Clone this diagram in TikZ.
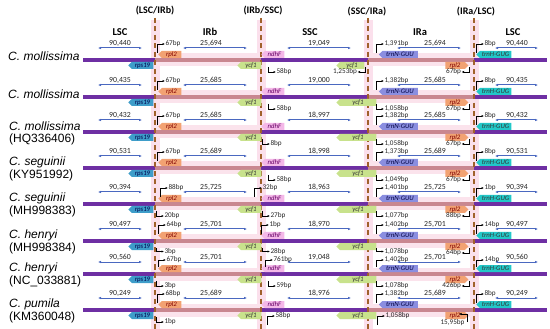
\documentclass[tikz,border=0pt]{standalone}
\usepackage{fontspec}
\setmainfont{Carlito}
\newfontfamily\arialfont{Liberation Sans}
\usepackage{tikz}
\usetikzlibrary{arrows.meta, positioning, shapes.symbols}

\definecolor{scpurple}{HTML}{6E2FA3}
\definecolor{irrose}{HTML}{C98790}
\definecolor{irband}{HTML}{FBE3EC}
\definecolor{bandpink}{HTML}{FBE0EC}
\definecolor{boundbrown}{HTML}{A0612B}
\definecolor{lenblue}{HTML}{4A68C0}
\definecolor{rpscol}{HTML}{3E9DC9}
\definecolor{rplcol}{HTML}{F2A272}
\definecolor{ycfcol}{HTML}{C8E28C}
\definecolor{ndhcol}{HTML}{F4B8E8}
\definecolor{trnncol}{HTML}{8A8EE0}
\definecolor{trnhcol}{HTML}{22C8C8}

\tikzset{
  bound/.style={draw=boundbrown, line width=1.6pt, dash pattern=on 5pt off 3.5pt},
  band/.style={fill=bandpink},
  scline/.style={draw=scpurple, line width=4pt},
  irline/.style={draw=irrose, line width=4pt},
  lenarrow/.style={{Latex[length=3pt,width=2.6pt]}-{Latex[length=3pt,width=2.6pt]}, draw=lenblue, line width=1pt},
  lenlabel/.style={inner sep=0pt, text=black!85, font=\fontsize{7.8}{8}\selectfont},
  boundlabel/.style={inner sep=0pt, font=\fontsize{10}{11}\selectfont\bfseries},
  regionlabel/.style={inner sep=0pt, font=\fontsize{10.5}{11}\selectfont\bfseries},
  splabel/.style={anchor=west, inner sep=0pt, font=\arialfont\fontsize{12}{13}\selectfont\itshape},
  acclabel/.style={anchor=west, inner sep=0pt, font=\arialfont\fontsize{12}{13}\selectfont},
  gene/.style={shape=signal, signal to=west, inner sep=0pt, minimum height=7pt,
    font=\fontsize{6.8}{7}\selectfont\itshape},
  rpsgene/.style={fill=rpscol, text=blue!30!black, minimum width=25pt},
  rplgene/.style={fill=rplcol, text=red!50!black, minimum width=23pt},
  ycfgene/.style={fill=ycfcol, text=black!80},
  ndhgene/.style={fill=ndhcol, text=violet!80!black, minimum width=23pt},
  trnngene/.style={fill=trnncol, text=blue!25!black, minimum width=39pt},
  trnhgene/.style={fill=trnhcol, text=black!80, minimum width=35pt},
  bp/.style={inner sep=0.3pt, text=black!85, font=\fontsize{7.2}{8}\selectfont},
  bparrow/.style={-{Latex[length=2.5pt,width=2.2pt]}, line width=0.6pt}
}

% bent arrows with distances to the junctions
\newcommand{\bpup}[5][16]{%
  \coordinate (#2s) at (#3,#4-7);
  \node[bp, anchor=west] (#2) at (#3+8,#4-#1) {#5};
  \draw[bparrow] (#2s) |- (#2.west);}
\newcommand{\bpdown}[5][12]{%
  \coordinate (#2s) at (#3,#4+7);
  \node[bp, anchor=west] (#2) at (#3+8,#4+#1) {#5};
  \draw[bparrow] (#2s) |- (#2.west);}
\newcommand{\bpback}[5][12]{%
  \coordinate (#2s) at (#3,#4+7);
  \node[bp, anchor=east] (#2) at (#3-7.5,#4+#1) {#5};
  \draw[bparrow] (#2s) |- (#2.east);}
\newcommand{\bprise}[4]{%
  \coordinate (#1s) at (#2,#3+15);
  \node[bp, anchor=west] (#1) at (#2+8,#3+6) {#4};
  \draw[bparrow] (#1s) |- (#1.west);}

\begin{document}
\begin{tikzpicture}[x=1pt, y=-1pt, >=Latex]
  \useasboundingbox (0,0) rectangle (550,329);
  % pink bands behind the junctions
  \foreach \bx in {155,261,368,474}
    \fill[band] (\bx-4.5,20) rectangle (\bx+4.5,329);
  % headings
  \node[boundlabel] (lscirb) at (155,11) {(LSC/IRb)};
  \node[boundlabel] (irbssc) at (263,11) {(IRb/SSC)};
  \node[boundlabel] (sscira) at (367,12) {(SSC/IRa)};
  \node[boundlabel] (iralsc) at (476,12) {(IRa/LSC)};
  \node[regionlabel] (lscleft) at (120,32) {LSC};
  \node[regionlabel] (irbhead) at (210,32) {IRb};
  \node[regionlabel] (sschead) at (310,32) {SSC};
  \node[regionlabel] (irahead) at (420,32) {IRa};
  \node[regionlabel] (lscright) at (513,32) {LSC};
  % species
  \node[splabel] (sp1) at (8,56) {C. mollissima};
  \node[splabel] (sp2) at (8,94) {C. mollissima};
  \foreach \r/\Y/\sp/\acc in {3/132/C. mollissima/HQ336406, 4/168/C. seguinii/KY951992,
      5/204/C. seguinii/MH998383, 6/241/C. henryi/MH998384,
      7/274/C. henryi/NC\_033881, 8/310/C. pumila/KM360048}{
    \node[splabel] (sp\r) at (9,\Y-6) {\sp};
    \node[acclabel] (acc\r) at (9,\Y+7) {(\acc)};
  }
  % genome lines and region lengths
  \foreach \r/\Y/\la/\lb/\lc in {1/60/{90,440}/{25,694}/{19,049},
      2/97/{90,435}/{25,685}/{19,000}, 3/132/{90,432}/{25,685}/{18,997},
      4/168/{90,531}/{25,689}/{18,998}, 5/204/{90,394}/{25,725}/{18,963},
      6/241/{90,497}/{25,701}/{18,970}, 7/274/{90,560}/{25,701}/{19,048},
      8/310/{90,249}/{25,689}/{18,976}}{
    \fill[irband] (155,\Y-6.5) rectangle (261,\Y+6.5);
    \fill[irband] (368,\Y-6.5) rectangle (474,\Y+6.5);
    \draw[scline] (83,\Y) -- (155,\Y);
    \draw[irline] (155,\Y) -- (261,\Y);
    \draw[scline] (261,\Y) -- (368,\Y);
    \draw[irline] (368,\Y) -- (474,\Y);
    \draw[scline] (474,\Y) -- (547,\Y);
    \draw[lenarrow] (98,\Y-12) -- (142,\Y-12);
    \draw[lenarrow] (183,\Y-12) -- (247,\Y-12);
    \draw[lenarrow] (287,\Y-12) -- (351,\Y-12);
    \draw[lenarrow] (397,\Y-12) -- (461,\Y-12);
    \draw[lenarrow] (495,\Y-12) -- (538,\Y-12);
    \node[lenlabel] (lsca\r) at (120,\Y-17) {\la};
    \node[lenlabel] (irb\r) at (211,\Y-17) {\lb};
    \node[lenlabel] (ssc\r) at (319,\Y-17) {\lc};
    \node[lenlabel] (ira\r) at (435,\Y-17) {\lb};
    \node[lenlabel] (lscb\r) at (517,\Y-17) {\la};
  }
  % junction lines
  \foreach \bx in {155,261,368,474}
    \draw[bound] (\bx,18) -- (\bx,329);
  % genes
  \foreach \r/\Y/\yr in {1/60/366, 2/97/378, 3/132/378, 4/168/378,
      5/204/378, 6/241/378, 7/274/378, 8/310/378}{
    \node[gene, rpsgene] (rps\r) at (142.5,\Y+5.5) {rps19};
    \node[gene, rplgene] (rpla\r) at (171.5,\Y-5.5) {rpl2};
    \node[gene, ycfgene, minimum width=24pt] (ycfa\r) at (251,\Y+5.5) {ycf1};
    \node[gene, ndhgene] (ndh\r) at (274.5,\Y-5.5) {ndhF};
    \node[gene, ycfgene, minimum width={\yr-338}] (ycfb\r) at ({(338+\yr)/2},\Y+5.5) {ycf1};
    \node[gene, trnngene] (trnn\r) at (400,\Y-5.5) {trnN-GUU};
    \node[gene, rplgene, signal to=east] (rplb\r) at (455,\Y+5.5) {rpl2};
    \node[gene, trnhgene] (trnh\r) at (495.5,\Y-5.5) {trnH-GUG};
  }
  % distances, row by row
  \bpup{a1}{157}{60}{67bp}   \bpdown{b1}{268}{60}{58bp}
  \bpback{c1}{365}{60}{1,253bp} \bpup{d1}{376}{60}{1,391bp}
  \bpback{e1}{469}{60}{67bp} \bpup{f1}{476}{60}{8bp}
  \bpup{a2}{157}{97}{67bp}   \bpdown{b2}{268}{97}{58bp}
  \bpdown{c2}{376}{97}{1,058bp} \bpup{d2}{376}{97}{1,382bp}
  \bpback{e2}{469}{97}{67bp} \bpup{f2}{476}{97}{8bp}
  \bpup{a3}{157}{132}{67bp}  \bpdown{b3}{262}{132}{8bp}
  \bpdown{c3}{376}{132}{1,058bp} \bpup{d3}{376}{132}{1,382bp}
  \bpback{e3}{469}{132}{67bp} \bpup{f3}{476}{132}{8bp}
  \bpup{a4}{157}{168}{67bp}  \bpdown{b4}{268}{168}{58bp}
  \bpdown{c4}{376}{168}{1,049bp} \bpup{d4}{376}{168}{1,373bp}
  \bpback{e4}{469}{168}{67bp} \bpup{f4}{476}{168}{8bp}
  \bpup{a5}{160}{204}{88bp}  \bpup{g5}{254}{204}{32bp}
  \bpdown{h5}{156}{204}{20bp} \bpdown{b5}{262}{204}{27bp}
  \bpdown{c5}{376}{204}{1,077bp} \bpup{d5}{376}{204}{1,401bp}
  \bpback{e5}{469}{204}{88bp} \bpup{f5}{476}{204}{1bp}
  \bpup{a6}{158}{241}{64bp}  \bpup{g6}{261}{241}{1bp}
  \bpdown[10.5]{h6}{156}{241}{3bp} \bpdown[10.5]{b6}{262}{241}{28bp}
  \bpdown[10.5]{c6}{376}{241}{1,078bp} \bpup{d6}{376}{241}{1,402bp}
  \bpback{e6}{469}{241}{64bp} \bpup{f6}{476}{241}{14bp}
  \bpup[14]{a7}{158}{274}{67bp}  \bpup[14]{g7}{265}{274}{761bp}
  \bpdown{h7}{156}{274}{3bp} \bpdown{b7}{268}{274}{59bp}
  \bpdown{c7}{376}{274}{1,078bp} \bpup[14]{d7}{376}{274}{1,402bp}
  \bpback{e7}{469}{274}{426bp} \bpup[14]{f7}{476}{274}{14bp}
  \bpup{a8}{157}{310}{68bp}  \bpdown{h8}{156}{310}{1bp}
  \bprise{b8}{267}{310}{58bp} \bprise{c8}{377}{310}{1,058bp}
  \bpup{d8}{376}{310}{1,382bp} \bpup{f8}{476}{310}{8bp}
  \coordinate (g8s) at (467,322);
  \coordinate (g8t) at (459,314);
  \node[bp, anchor=east] (g8) at (465,323) {15,95bp};
  \draw[bparrow] (g8s) |- (g8t);
\end{tikzpicture}
\end{document}
